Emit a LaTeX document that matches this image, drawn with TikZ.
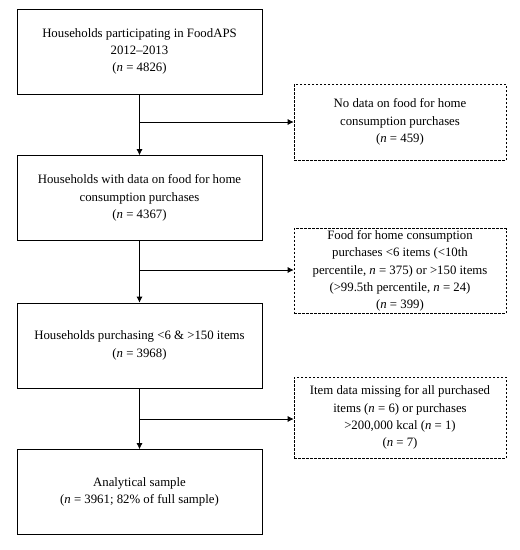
\documentclass[tikz,border=0pt]{standalone}
\usepackage{fontspec}
\setmainfont{Liberation Serif}
\usetikzlibrary{arrows.meta,calc}
\begin{document}
\begin{tikzpicture}[x=1pt,y=-1pt,
  mainbox/.style={draw, line width=0.7pt, rectangle, minimum width=245pt, minimum height=85pt, align=center, font=\fontsize{12.8}{17.3}\selectfont, inner sep=2pt},
  exclbox/.style={draw, line width=0.7pt, dash pattern=on 2.5pt off 1.5pt, rectangle, minimum width=212pt, align=center, font=\fontsize{12.8}{17.3}\selectfont, inner sep=2pt},
  flow/.style={line width=0.7pt, -{Latex[length=6pt,width=6pt]}}]
\useasboundingbox (0,0) rectangle (520,550);
\node[mainbox] (b1) at (139.5,51.5) {Households participating in FoodAPS\\2012--2013\\(\textit{n} = 4826)};
\node[mainbox] (b2) at (139.5,198) {Households with data on food for home\\consumption purchases\\(\textit{n} = 4367)};
\node[mainbox] (b3) at (139.5,345.5) {Households purchasing <6 \& >150 items\\(\textit{n} = 3968)};
\node[mainbox] (b4) at (139.5,492) {Analytical sample\\(\textit{n} = 3961; 82\% of full sample)};
\node[exclbox, minimum height=76pt] (e1) at (400,122) {No data on food for home\\consumption purchases\\(\textit{n} = 459)};
\node[exclbox, minimum height=84pt] (e2) at (400,271) {Food for home consumption\\purchases <6 items (<10th\\percentile, \textit{n} = 375) or >150 items\\(>99.5th percentile, \textit{n} = 24)\\(\textit{n} = 399)};
\node[exclbox, minimum height=81pt] (e3) at (400,417.5) {Item data missing for all purchased\\items (\textit{n} = 6) or purchases\\>200,000 kcal (\textit{n} = 1)\\(\textit{n} = 7)};
\coordinate (j1) at (139.5,122);
\coordinate (j2) at (139.5,270);
\coordinate (j3) at (139.5,419);
\draw[flow] (b1) -- (b2);
\draw[flow] (b2) -- (b3);
\draw[flow] (b3) -- (b4);
\draw[flow] (j1) -- (e1.west);
\draw[flow] (j2) -- (j2 -| e2.west);
\draw[flow] (j3) -- (j3 -| e3.west);
\end{tikzpicture}
\end{document}
